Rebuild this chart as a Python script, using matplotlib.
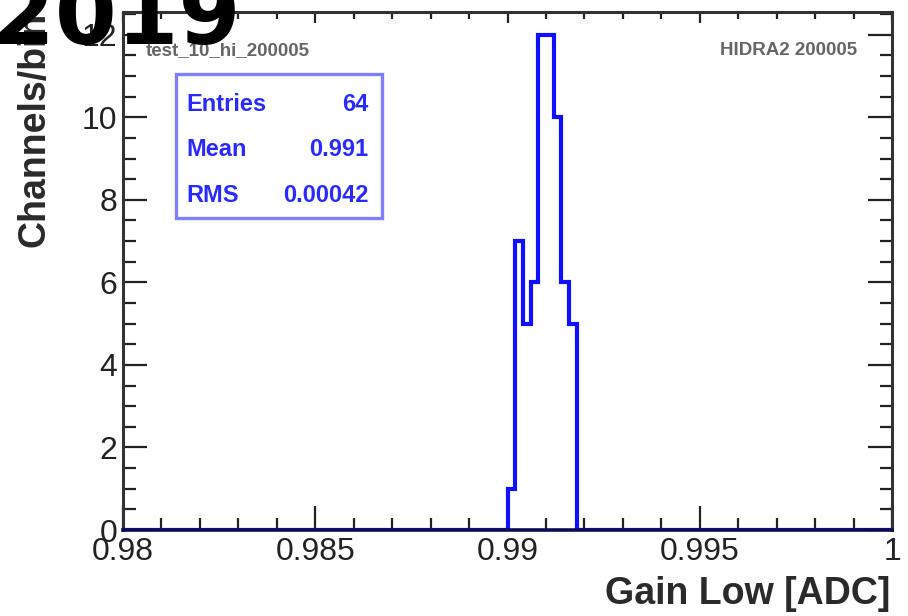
import numpy as np
import matplotlib
matplotlib.use("Agg")
import matplotlib.pyplot as plt
from matplotlib.ticker import MultipleLocator, FixedLocator, FixedFormatter
from matplotlib.patches import Rectangle

# histogram binning
bin_lo = 0.98
bin_hi = 1.0
n_bins = 100

# filled bins, starting at 0.99
first_filled = 0.99
filled_counts = [1, 7, 5, 6, 12, 12, 10, 6, 5]

# stat box
stat_names = ["Entries", "Mean", "RMS"]
stat_values = ["64", "0.991", "0.00042"]

x_ticks = [0.98, 0.985, 0.99, 0.995, 1.0]
x_tick_labels = ["0.98", "0.985", "0.99", "0.995", "1"]
y_ticks = [0, 2, 4, 6, 8, 10, 12]

edges = np.linspace(bin_lo, bin_hi, n_bins + 1)
counts = np.zeros(n_bins)
i0 = int(round((first_filled - bin_lo) / (bin_hi - bin_lo) * n_bins))
counts[i0:i0 + len(filled_counts)] = filled_counts

plt.rcParams["font.family"] = ["Liberation Sans", "DejaVu Sans"]

fig = plt.figure(figsize=(9.08, 6.16), dpi=100)
ax = fig.add_axes([123 / 908, 1 - 530 / 616, 769 / 908, 518 / 616])

ax.stairs(counts, edges, baseline=None, color="#1010ff", linewidth=3.0, zorder=3)

ax.set_xlim(bin_lo, bin_hi)
ax.set_ylim(0, 12.55)

ax.xaxis.set_major_locator(FixedLocator(x_ticks))
ax.xaxis.set_major_formatter(FixedFormatter(x_tick_labels))
ax.xaxis.set_minor_locator(MultipleLocator(0.001))
ax.yaxis.set_major_locator(FixedLocator(y_ticks))
ax.yaxis.set_minor_locator(MultipleLocator(0.5))

ax.tick_params(which="both", direction="in", left=True, right=True, bottom=True, top=False,
               width=1.6, color="#222222")
ax.tick_params(which="major", length=17, labelsize=23, labelcolor="#222222")
ax.tick_params(which="minor", length=9)
ax.tick_params(axis="x", which="major", pad=5)
ax.tick_params(axis="y", which="major", pad=4)

# shorter ticks along the top edge
top = ax.secondary_xaxis("top")
top.xaxis.set_major_locator(FixedLocator(x_ticks))
top.xaxis.set_minor_locator(MultipleLocator(0.001))
top.tick_params(which="both", direction="in", labeltop=False, width=1.6, color="#222222")
top.tick_params(which="major", length=8)
top.tick_params(which="minor", length=5)
top.spines["top"].set_visible(False)

for side in ["left", "right", "top"]:
    ax.spines[side].set_linewidth(2.2)
    ax.spines[side].set_color("#333333")
ax.spines["bottom"].set_linewidth(2.6)
ax.spines["bottom"].set_color("#0c0c55")
ax.spines["bottom"].set_zorder(4)

# stat box
ax.add_patch(Rectangle((0.069, 0.602), 0.268, 0.278, transform=ax.transAxes,
                       fill=False, edgecolor="#8080ff", linewidth=2.4, zorder=5))
stat_y = [0.822, 0.735, 0.646]
for name, val, yy in zip(stat_names, stat_values, stat_y):
    ax.text(0.082, yy, name, transform=ax.transAxes, ha="left", va="center",
            fontsize=17, fontweight="bold", color="#2a2aff", zorder=6)
    ax.text(0.319, yy, val, transform=ax.transAxes, ha="right", va="center",
            fontsize=17, fontweight="bold", color="#2a2aff", zorder=6)

ax.text(0.029, 0.925, "test_10_hi_200005", transform=ax.transAxes, ha="left", va="center",
        fontsize=13.5, fontweight="bold", color="#666666")
ax.text(0.955, 0.925, "HIDRA2 200005", transform=ax.transAxes, ha="right", va="center",
        fontsize=13.5, fontweight="bold", color="#666666")

# axis titles, ROOT style
ax.text((35 - 123) / 769, 1.0, "Channels/bin", transform=ax.transAxes, rotation=90,
        ha="center", va="top", fontsize=27, fontweight="bold", color="#2a2a2a")
fig.text(890 / 908, 1 - 604 / 616, "Gain Low [ADC]", ha="right", va="baseline",
         fontsize=27, fontweight="bold", color="#2a2a2a")

fig.text(-7 / 908, 1 - 44 / 616, "2019", ha="left", va="baseline", fontsize=64,
         fontweight="bold", color="black", family="DejaVu Sans")

fig.savefig("out.png", dpi=100)
